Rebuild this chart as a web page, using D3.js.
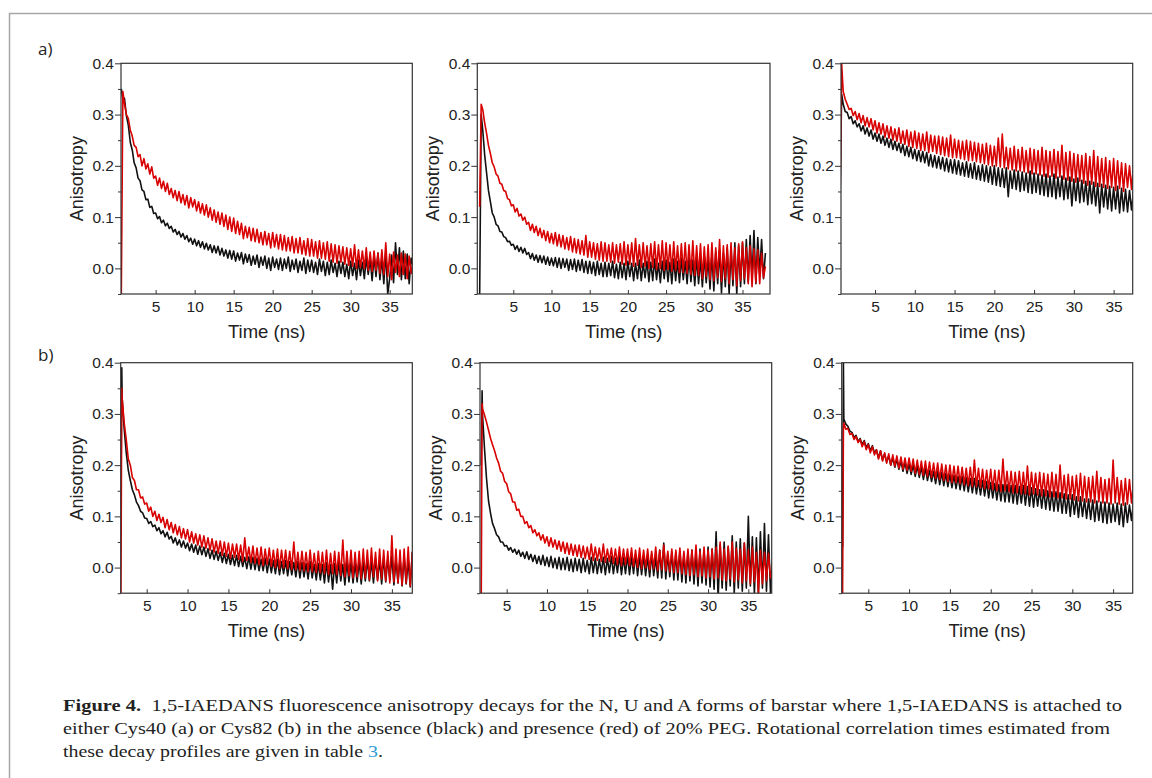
<!DOCTYPE html>
<html>
<head>
<meta charset="utf-8">
<script src="https://cdn.jsdelivr.net/npm/d3@7"></script>
<style>
  body { margin: 0; background: #fff; }
  svg text { fill: #222; }
</style>
</head>
<body>
<div id="fig"></div>
<script>
// time grids (ns): row a starts at the excitation spike ~0.6 ns, row b at ~1.85 ns
const timeA = [0.6, 0.8,
  1.0, 1.25, 1.5, 1.75, 2.0, 2.25, 2.5, 2.75,
  3.0, 3.25, 3.5, 3.75, 4.0, 4.25, 4.5, 4.75,
  5.0, 5.25, 5.5, 5.75, 6.0, 6.25, 6.5, 6.75,
  7.0, 7.25, 7.5, 7.75, 8.0, 8.25, 8.5, 8.75,
  9.0, 9.25, 9.5, 9.75, 10.0, 10.25, 10.5, 10.75,
  11.0, 11.25, 11.5, 11.75, 12.0, 12.25, 12.5, 12.75,
  13.0, 13.25, 13.5, 13.75, 14.0, 14.25, 14.5, 14.75,
  15.0, 15.25, 15.5, 15.75, 16.0, 16.25, 16.5, 16.75,
  17.0, 17.25, 17.5, 17.75, 18.0, 18.25, 18.5, 18.75,
  19.0, 19.25, 19.5, 19.75, 20.0, 20.25, 20.5, 20.75,
  21.0, 21.25, 21.5, 21.75, 22.0, 22.25, 22.5, 22.75,
  23.0, 23.25, 23.5, 23.75, 24.0, 24.25, 24.5, 24.75,
  25.0, 25.25, 25.5, 25.75, 26.0, 26.25, 26.5, 26.75,
  27.0, 27.25, 27.5, 27.75, 28.0, 28.25, 28.5, 28.75,
  29.0, 29.25, 29.5, 29.75, 30.0, 30.25, 30.5, 30.75,
  31.0, 31.25, 31.5, 31.75, 32.0, 32.25, 32.5, 32.75,
  33.0, 33.25, 33.5, 33.75, 34.0, 34.25, 34.5, 34.75,
  35.0, 35.25, 35.5, 35.75, 36.0, 36.25, 36.5, 36.75,
  37.0, 37.25, 37.5, 37.75, 38.0];
const timeB = [1.85, 1.95,
  2.0, 2.25, 2.5, 2.75, 3.0, 3.25, 3.5, 3.75,
  4.0, 4.25, 4.5, 4.75, 5.0, 5.25, 5.5, 5.75,
  6.0, 6.25, 6.5, 6.75, 7.0, 7.25, 7.5, 7.75,
  8.0, 8.25, 8.5, 8.75, 9.0, 9.25, 9.5, 9.75,
  10.0, 10.25, 10.5, 10.75, 11.0, 11.25, 11.5, 11.75,
  12.0, 12.25, 12.5, 12.75, 13.0, 13.25, 13.5, 13.75,
  14.0, 14.25, 14.5, 14.75, 15.0, 15.25, 15.5, 15.75,
  16.0, 16.25, 16.5, 16.75, 17.0, 17.25, 17.5, 17.75,
  18.0, 18.25, 18.5, 18.75, 19.0, 19.25, 19.5, 19.75,
  20.0, 20.25, 20.5, 20.75, 21.0, 21.25, 21.5, 21.75,
  22.0, 22.25, 22.5, 22.75, 23.0, 23.25, 23.5, 23.75,
  24.0, 24.25, 24.5, 24.75, 25.0, 25.25, 25.5, 25.75,
  26.0, 26.25, 26.5, 26.75, 27.0, 27.25, 27.5, 27.75,
  28.0, 28.25, 28.5, 28.75, 29.0, 29.25, 29.5, 29.75,
  30.0, 30.25, 30.5, 30.75, 31.0, 31.25, 31.5, 31.75,
  32.0, 32.25, 32.5, 32.75, 33.0, 33.25, 33.5, 33.75,
  34.0, 34.25, 34.5, 34.75, 35.0, 35.25, 35.5, 35.75,
  36.0, 36.25, 36.5, 36.75, 37.0, 37.25, 37.5, 37.75,
  38.0];

// row a: Cys40 label, N / U / A forms; black = no PEG, red = 20% PEG
const cys40N_black = [0.35, 0.33,
  0.332, 0.298, 0.279, 0.246, 0.231, 0.206, 0.196, 0.176,
  0.171, 0.153, 0.150, 0.134, 0.135, 0.119, 0.121, 0.107,
  0.108, 0.097, 0.101, 0.089, 0.094, 0.083, 0.088, 0.078,
  0.082, 0.071, 0.076, 0.066, 0.072, 0.061, 0.068, 0.057,
  0.064, 0.052, 0.059, 0.047, 0.057, 0.044, 0.054, 0.041,
  0.052, 0.038, 0.049, 0.036, 0.046, 0.031, 0.044, 0.03,
  0.043, 0.026, 0.039, 0.024, 0.036, 0.02, 0.035, 0.018,
  0.034, 0.014, 0.03, 0.016, 0.031, 0.009, 0.028, 0.012,
  0.027, 0.006, 0.024, 0.008, 0.026, 0.002, 0.022, 0.006,
  0.024, 0.0, 0.02, -0.004, 0.022, 0.002, 0.018, -0.002,
  0.02, -0.004, 0.018, 0.0, 0.022, -0.006, 0.016, -0.002,
  0.018, -0.008, 0.014, -0.004, 0.02, -0.01, 0.016, -0.006,
  0.016, -0.008, 0.012, -0.012, 0.018, -0.006, 0.014, -0.014,
  0.012, -0.012, 0.016, -0.008, 0.01, -0.016, 0.014, -0.01,
  0.012, -0.016, 0.008, -0.02, 0.014, -0.014, 0.01, -0.022,
  0.016, -0.014, 0.012, -0.02, 0.02, -0.012, 0.018, -0.024,
  0.024, -0.016, 0.03, -0.022, 0.02, -0.03, 0.034, -0.05,
  -0.02, 0.026, -0.028, 0.05, -0.012, 0.04, -0.022, 0.034,
  -0.02, 0.028, -0.03, 0.02, 0.004];
const cys40N_red = [-0.05, 0.345,
  0.322, 0.3, 0.292, 0.27, 0.258, 0.24, 0.236, 0.218,
  0.222, 0.2, 0.214, 0.194, 0.204, 0.184, 0.198, 0.176,
  0.18, 0.162, 0.176, 0.156, 0.17, 0.15, 0.166, 0.144,
  0.156, 0.138, 0.152, 0.132, 0.15, 0.128, 0.144, 0.124,
  0.142, 0.118, 0.138, 0.12, 0.134, 0.112, 0.13, 0.108,
  0.126, 0.104, 0.124, 0.1, 0.118, 0.094, 0.114, 0.09,
  0.11, 0.086, 0.108, 0.082, 0.104, 0.076, 0.1, 0.072,
  0.098, 0.068, 0.092, 0.066, 0.088, 0.058, 0.082, 0.06,
  0.08, 0.054, 0.078, 0.052, 0.076, 0.05, 0.07, 0.046,
  0.072, 0.046, 0.068, 0.04, 0.07, 0.042, 0.066, 0.038,
  0.066, 0.036, 0.064, 0.034, 0.06, 0.034, 0.062, 0.03,
  0.058, 0.03, 0.06, 0.028, 0.054, 0.026, 0.058, 0.024,
  0.056, 0.024, 0.052, 0.02, 0.054, 0.02, 0.05, 0.018,
  0.052, 0.014, 0.048, 0.012, 0.046, 0.01, 0.044, 0.012,
  0.042, 0.008, 0.04, 0.006, 0.038, 0.004, 0.046, 0.0,
  0.036, 0.002, 0.034, 0.0, 0.04, -0.004, 0.032, -0.006,
  0.034, -0.004, 0.03, -0.01, 0.036, -0.012, 0.05, -0.016,
  0.028, -0.022, 0.032, -0.008, 0.026, -0.016, 0.03, -0.012,
  0.028, -0.02, 0.024, -0.01, 0.012];
const cys40U_black = [-0.05, 0.3,
  0.27, 0.222, 0.187, 0.152, 0.13, 0.108, 0.1, 0.086,
  0.083, 0.072, 0.071, 0.062, 0.06, 0.052, 0.053, 0.045,
  0.047, 0.037, 0.044, 0.033, 0.041, 0.03, 0.039, 0.027,
  0.031, 0.019, 0.029, 0.016, 0.026, 0.012, 0.025, 0.011,
  0.024, 0.008, 0.022, 0.006, 0.02, 0.005, 0.021, 0.002,
  0.02, 0.0, 0.019, 0.002, 0.018, -0.004, 0.017, -0.002,
  0.018, -0.006, 0.016, -0.004, 0.017, -0.008, 0.014, -0.01,
  0.014, -0.01, 0.012, -0.014, 0.014, -0.012, 0.01, -0.016,
  0.012, -0.016, 0.01, -0.014, 0.014, -0.018, 0.008, -0.02,
  0.012, -0.018, 0.01, -0.022, 0.014, -0.016, 0.01, -0.024,
  0.01, -0.02, 0.016, -0.024, 0.01, -0.018, 0.014, -0.026,
  0.012, -0.024, 0.018, -0.022, 0.01, -0.028, 0.014, -0.02,
  0.016, -0.026, 0.012, -0.03, 0.018, -0.024, 0.014, -0.028,
  0.02, -0.022, 0.014, -0.03, 0.022, -0.026, 0.016, -0.034,
  0.022, -0.03, 0.018, -0.036, 0.024, -0.028, 0.02, -0.04,
  0.028, -0.044, 0.032, -0.03, 0.036, -0.048, 0.03, -0.036,
  0.04, -0.05, 0.036, -0.034, 0.05, -0.05, 0.044, -0.036,
  0.05, -0.03, 0.056, -0.026, 0.064, -0.02, 0.074, -0.03,
  0.06, -0.01, 0.056, -0.02, 0.03];
const cys40U_red = [0.12, 0.32,
  0.31, 0.284, 0.264, 0.24, 0.224, 0.206, 0.198, 0.184,
  0.18, 0.166, 0.164, 0.152, 0.15, 0.136, 0.134, 0.122,
  0.124, 0.11, 0.117, 0.102, 0.106, 0.094, 0.1, 0.086,
  0.09, 0.074, 0.086, 0.07, 0.082, 0.064, 0.078, 0.06,
  0.074, 0.054, 0.072, 0.05, 0.068, 0.048, 0.07, 0.044,
  0.066, 0.042, 0.064, 0.038, 0.06, 0.036, 0.062, 0.032,
  0.058, 0.03, 0.056, 0.028, 0.054, 0.026, 0.064, 0.022,
  0.052, 0.022, 0.05, 0.018, 0.048, 0.016, 0.052, 0.014,
  0.05, 0.014, 0.046, 0.012, 0.05, 0.01, 0.046, 0.012,
  0.048, 0.008, 0.052, 0.006, 0.046, 0.008, 0.05, 0.004,
  0.058, 0.006, 0.046, 0.002, 0.05, 0.004, 0.044, 0.0,
  0.048, 0.002, 0.052, -0.002, 0.046, 0.0, 0.054, -0.004,
  0.05, -0.002, 0.046, -0.006, 0.052, -0.004, 0.044, -0.008,
  0.048, -0.008, 0.05, -0.01, 0.046, -0.012, 0.054, -0.014,
  0.044, -0.014, 0.048, -0.02, 0.042, -0.016, 0.046, -0.022,
  0.05, -0.024, 0.04, -0.018, 0.056, -0.026, 0.044, -0.02,
  0.046, -0.03, 0.05, -0.022, 0.04, -0.034, 0.048, -0.024,
  0.052, -0.02, 0.04, -0.03, 0.044, -0.036, 0.038, -0.028,
  0.036, -0.03, 0.03, -0.018, 0.004];
const cys40A_black = [0.13, 0.34,
  0.32, 0.306, 0.304, 0.292, 0.296, 0.282, 0.288, 0.276,
  0.282, 0.268, 0.278, 0.262, 0.274, 0.258, 0.27, 0.252,
  0.264, 0.248, 0.262, 0.244, 0.258, 0.24, 0.254, 0.236,
  0.252, 0.232, 0.248, 0.23, 0.244, 0.226, 0.242, 0.22,
  0.238, 0.218, 0.236, 0.214, 0.232, 0.21, 0.23, 0.208,
  0.228, 0.206, 0.226, 0.2, 0.222, 0.198, 0.22, 0.196,
  0.218, 0.194, 0.216, 0.19, 0.214, 0.188, 0.212, 0.186,
  0.212, 0.184, 0.21, 0.182, 0.206, 0.18, 0.208, 0.178,
  0.204, 0.176, 0.206, 0.174, 0.2, 0.172, 0.202, 0.17,
  0.2, 0.168, 0.198, 0.164, 0.2, 0.162, 0.196, 0.16,
  0.194, 0.158, 0.196, 0.14, 0.19, 0.156, 0.192, 0.154,
  0.19, 0.15, 0.188, 0.152, 0.186, 0.148, 0.19, 0.146,
  0.186, 0.148, 0.184, 0.144, 0.182, 0.142, 0.184, 0.14,
  0.18, 0.14, 0.184, 0.136, 0.178, 0.14, 0.18, 0.134,
  0.176, 0.136, 0.178, 0.122, 0.174, 0.132, 0.176, 0.128,
  0.172, 0.13, 0.17, 0.124, 0.17, 0.126, 0.168, 0.122,
  0.166, 0.108, 0.164, 0.12, 0.162, 0.116, 0.16, 0.112,
  0.158, 0.116, 0.16, 0.108, 0.156, 0.112, 0.154, 0.11,
  0.152, 0.114, 0.15, 0.118, 0.13];
const cys40A_red = [0.13, 0.4,
  0.345, 0.33, 0.32, 0.31, 0.312, 0.298, 0.306, 0.29,
  0.302, 0.284, 0.298, 0.278, 0.294, 0.276, 0.292, 0.27,
  0.288, 0.264, 0.284, 0.262, 0.282, 0.256, 0.278, 0.254,
  0.276, 0.25, 0.272, 0.248, 0.274, 0.244, 0.268, 0.242,
  0.27, 0.238, 0.266, 0.236, 0.268, 0.234, 0.264, 0.23,
  0.262, 0.23, 0.266, 0.226, 0.26, 0.228, 0.258, 0.224,
  0.258, 0.222, 0.256, 0.22, 0.254, 0.218, 0.26, 0.216,
  0.252, 0.216, 0.25, 0.214, 0.248, 0.212, 0.25, 0.21,
  0.248, 0.21, 0.246, 0.208, 0.244, 0.206, 0.242, 0.204,
  0.244, 0.202, 0.24, 0.2, 0.238, 0.2, 0.254, 0.198,
  0.262, 0.196, 0.236, 0.194, 0.234, 0.192, 0.238, 0.19,
  0.232, 0.19, 0.236, 0.188, 0.23, 0.186, 0.234, 0.184,
  0.232, 0.184, 0.23, 0.182, 0.236, 0.18, 0.23, 0.178,
  0.228, 0.18, 0.232, 0.176, 0.228, 0.178, 0.24, 0.174,
  0.226, 0.172, 0.228, 0.17, 0.224, 0.168, 0.222, 0.17,
  0.22, 0.166, 0.224, 0.162, 0.218, 0.164, 0.23, 0.16,
  0.218, 0.16, 0.214, 0.158, 0.216, 0.156, 0.21, 0.158,
  0.214, 0.152, 0.21, 0.156, 0.206, 0.15, 0.204, 0.158,
  0.2, 0.154, 0.202, 0.16, 0.18];

// row b: Cys82 label
const cys82N_black = [0.12, 0.39,
  0.33, 0.27, 0.224, 0.19, 0.17, 0.152, 0.142, 0.128,
  0.121, 0.11, 0.107, 0.097, 0.096, 0.086, 0.09, 0.08,
  0.083, 0.072, 0.078, 0.066, 0.072, 0.06, 0.069, 0.056,
  0.061, 0.048, 0.058, 0.044, 0.054, 0.04, 0.052, 0.038,
  0.048, 0.033, 0.046, 0.03, 0.044, 0.026, 0.042, 0.025,
  0.04, 0.022, 0.037, 0.018, 0.034, 0.016, 0.032, 0.014,
  0.03, 0.01, 0.028, 0.008, 0.026, 0.006, 0.024, 0.004,
  0.024, 0.002, 0.022, 0.002, 0.02, -0.002, 0.021, -0.003,
  0.02, -0.004, 0.018, -0.006, 0.016, -0.006, 0.018, -0.01,
  0.016, -0.01, 0.014, -0.012, 0.016, -0.014, 0.012, -0.012,
  0.014, -0.016, 0.012, -0.014, 0.01, -0.018, 0.012, -0.02,
  0.01, -0.018, 0.008, -0.022, 0.012, -0.02, 0.006, -0.024,
  0.008, -0.024, 0.006, -0.03, 0.01, -0.028, 0.006, -0.042,
  0.008, -0.03, 0.01, -0.026, 0.006, -0.034, 0.012, -0.028,
  0.01, -0.03, 0.008, -0.028, 0.014, -0.032, 0.01, -0.026,
  0.016, -0.026, 0.012, -0.03, 0.018, -0.024, 0.014, -0.032,
  0.02, -0.028, 0.018, -0.024, 0.022, -0.034, 0.016, -0.03,
  0.018, -0.036, 0.022, -0.032, 0.014, -0.038, 0.03, -0.04,
  -0.02];
const cys82N_red = [-0.05, 0.35,
  0.33, 0.282, 0.25, 0.212, 0.2, 0.176, 0.17, 0.152,
  0.152, 0.136, 0.138, 0.124, 0.126, 0.11, 0.118, 0.1,
  0.11, 0.092, 0.104, 0.088, 0.098, 0.078, 0.094, 0.074,
  0.088, 0.068, 0.084, 0.064, 0.08, 0.058, 0.076, 0.056,
  0.074, 0.05, 0.07, 0.048, 0.066, 0.044, 0.064, 0.04,
  0.062, 0.038, 0.058, 0.034, 0.056, 0.03, 0.052, 0.028,
  0.052, 0.024, 0.05, 0.022, 0.048, 0.018, 0.046, 0.02,
  0.046, 0.016, 0.044, 0.012, 0.058, 0.014, 0.04, 0.01,
  0.042, 0.008, 0.038, 0.006, 0.04, 0.004, 0.036, 0.006,
  0.038, 0.002, 0.034, 0.0, 0.036, -0.002, 0.034, 0.0,
  0.034, -0.002, 0.032, -0.004, 0.05, -0.004, 0.03, -0.006,
  0.032, -0.006, 0.03, -0.008, 0.034, -0.008, 0.028, -0.01,
  0.032, -0.01, 0.03, -0.012, 0.034, -0.014, 0.028, -0.012,
  0.032, -0.014, 0.03, -0.016, 0.054, -0.018, 0.032, -0.016,
  0.034, -0.02, 0.03, -0.018, 0.032, -0.022, 0.036, -0.02,
  0.034, -0.024, 0.038, -0.018, 0.03, -0.026, 0.036, -0.022,
  0.034, -0.026, 0.032, -0.03, 0.062, -0.028, 0.036, -0.03,
  0.034, -0.034, 0.036, -0.03, 0.04, -0.036, 0.03, -0.05,
  0.02];
const cys82U_black = [0.2, 0.345,
  0.3, 0.232, 0.174, 0.13, 0.106, 0.086, 0.076, 0.064,
  0.06, 0.05, 0.05, 0.042, 0.043, 0.034, 0.039, 0.03,
  0.036, 0.026, 0.034, 0.022, 0.03, 0.018, 0.031, 0.016,
  0.026, 0.012, 0.024, 0.008, 0.022, 0.006, 0.024, 0.004,
  0.02, 0.002, 0.022, 0.0, 0.018, -0.002, 0.02, -0.004,
  0.018, -0.004, 0.02, -0.006, 0.016, -0.008, 0.018, -0.006,
  0.016, -0.01, 0.018, -0.008, 0.014, -0.012, 0.02, -0.01,
  0.018, -0.012, 0.016, -0.01, 0.02, -0.014, 0.018, -0.01,
  0.022, -0.012, 0.018, -0.01, 0.024, -0.014, 0.02, -0.012,
  0.024, -0.014, 0.022, -0.012, 0.026, -0.016, 0.022, -0.014,
  0.024, -0.016, 0.022, -0.018, 0.026, -0.016, 0.02, -0.02,
  0.034, -0.02, 0.048, -0.022, 0.026, -0.018, 0.03, -0.024,
  0.028, -0.024, 0.032, -0.028, 0.026, -0.03, 0.03, -0.026,
  0.034, -0.032, 0.028, -0.036, 0.036, -0.03, 0.032, -0.034,
  0.04, -0.038, 0.036, -0.042, 0.07, -0.06, 0.044, -0.04,
  0.05, -0.044, 0.04, -0.036, 0.062, -0.05, 0.05, -0.04,
  0.056, -0.046, 0.048, -0.04, 0.1, -0.036, 0.06, -0.05,
  0.058, -0.05, 0.07, -0.04, 0.086, -0.046, 0.064, -0.05,
  0.01];
const cys82U_red = [-0.05, 0.32,
  0.31, 0.298, 0.284, 0.268, 0.252, 0.24, 0.228, 0.214,
  0.204, 0.188, 0.184, 0.168, 0.164, 0.148, 0.144, 0.128,
  0.128, 0.112, 0.114, 0.1, 0.1, 0.086, 0.09, 0.078,
  0.082, 0.068, 0.074, 0.062, 0.068, 0.054, 0.064, 0.048,
  0.06, 0.042, 0.058, 0.04, 0.054, 0.036, 0.052, 0.032,
  0.05, 0.028, 0.048, 0.026, 0.046, 0.024, 0.044, 0.022,
  0.044, 0.02, 0.042, 0.018, 0.04, 0.016, 0.046, 0.014,
  0.04, 0.014, 0.038, 0.012, 0.046, 0.01, 0.036, 0.012,
  0.038, 0.008, 0.036, 0.006, 0.04, 0.004, 0.036, 0.006,
  0.036, 0.004, 0.038, 0.002, 0.034, 0.0, 0.038, -0.002,
  0.034, 0.0, 0.036, -0.004, 0.032, -0.002, 0.04, -0.006,
  0.034, -0.004, 0.044, -0.006, 0.032, -0.008, 0.036, -0.01,
  0.034, -0.01, 0.038, -0.012, 0.032, -0.014, 0.036, -0.016,
  0.034, -0.014, 0.044, -0.018, 0.032, -0.016, 0.04, -0.02,
  0.034, -0.018, 0.036, -0.022, 0.04, -0.02, 0.05, -0.024,
  0.036, -0.026, 0.042, -0.022, 0.05, -0.028, 0.038, -0.024,
  0.036, -0.03, 0.048, -0.026, 0.034, -0.032, 0.04, -0.028,
  0.03, -0.05, 0.034, -0.032, 0.03, -0.026, 0.028, -0.02,
  0.0];
const cys82A_black = [0.04, 0.4,
  0.29, 0.28, 0.276, 0.266, 0.264, 0.254, 0.258, 0.246,
  0.252, 0.24, 0.248, 0.234, 0.242, 0.228, 0.238, 0.224,
  0.23, 0.214, 0.228, 0.21, 0.222, 0.206, 0.218, 0.2,
  0.214, 0.196, 0.212, 0.192, 0.208, 0.188, 0.206, 0.184,
  0.202, 0.182, 0.2, 0.178, 0.198, 0.176, 0.196, 0.172,
  0.194, 0.17, 0.19, 0.168, 0.188, 0.164, 0.188, 0.162,
  0.186, 0.16, 0.184, 0.158, 0.182, 0.156, 0.18, 0.154,
  0.178, 0.152, 0.178, 0.15, 0.176, 0.148, 0.174, 0.146,
  0.174, 0.144, 0.17, 0.142, 0.17, 0.14, 0.168, 0.136,
  0.166, 0.136, 0.164, 0.132, 0.162, 0.13, 0.162, 0.128,
  0.162, 0.128, 0.16, 0.126, 0.16, 0.124, 0.158, 0.126,
  0.16, 0.122, 0.158, 0.12, 0.156, 0.118, 0.154, 0.12,
  0.152, 0.116, 0.152, 0.114, 0.15, 0.112, 0.148, 0.11,
  0.148, 0.11, 0.146, 0.106, 0.144, 0.106, 0.142, 0.1,
  0.142, 0.104, 0.138, 0.098, 0.138, 0.1, 0.134, 0.096,
  0.134, 0.094, 0.132, 0.09, 0.13, 0.092, 0.128, 0.088,
  0.128, 0.086, 0.126, 0.088, 0.124, 0.09, 0.126, 0.084,
  0.124, 0.08, 0.126, 0.088, 0.122, 0.092, 0.128, 0.09,
  0.11];
const cys82A_red = [-0.05, 0.27,
  0.282, 0.27, 0.272, 0.26, 0.262, 0.25, 0.256, 0.244,
  0.25, 0.236, 0.246, 0.23, 0.24, 0.224, 0.236, 0.22,
  0.23, 0.212, 0.228, 0.208, 0.224, 0.204, 0.222, 0.2,
  0.22, 0.198, 0.218, 0.194, 0.216, 0.192, 0.214, 0.19,
  0.214, 0.188, 0.212, 0.184, 0.21, 0.182, 0.208, 0.18,
  0.208, 0.178, 0.206, 0.176, 0.204, 0.174, 0.204, 0.172,
  0.202, 0.17, 0.2, 0.168, 0.2, 0.166, 0.198, 0.166,
  0.198, 0.164, 0.196, 0.162, 0.194, 0.16, 0.196, 0.158,
  0.21, 0.158, 0.194, 0.156, 0.192, 0.154, 0.19, 0.154,
  0.192, 0.152, 0.19, 0.15, 0.19, 0.148, 0.212, 0.15,
  0.188, 0.148, 0.188, 0.146, 0.186, 0.146, 0.188, 0.144,
  0.186, 0.144, 0.198, 0.142, 0.186, 0.144, 0.184, 0.142,
  0.186, 0.14, 0.184, 0.14, 0.182, 0.138, 0.186, 0.138,
  0.182, 0.136, 0.2, 0.136, 0.18, 0.134, 0.182, 0.134,
  0.178, 0.132, 0.18, 0.13, 0.184, 0.13, 0.178, 0.128,
  0.176, 0.128, 0.178, 0.126, 0.188, 0.128, 0.176, 0.126,
  0.172, 0.126, 0.174, 0.124, 0.21, 0.126, 0.176, 0.124,
  0.17, 0.122, 0.174, 0.124, 0.172, 0.126, 0.168, 0.13,
  0.15];

const yTicks = [0.0, 0.1, 0.2, 0.3, 0.4];
const yMinorTicks = [-0.05, 0.05, 0.15, 0.25, 0.35];
const xTicks = [5, 10, 15, 20, 25, 30, 35];
const rowLabels = ['a)', 'b)'];
const xTitle = 'Time (ns)';
const yTitle = 'Anisotropy';

const sans = '"Liberation Sans", Arial, sans-serif';
const serif = '"Liberation Serif", "Times New Roman", serif';

class DecayPanel {
    constructor(svg, box, xDomain, id) {
        this.box = box; // [left, top, right, bottom]
        this.x = d3.scaleLinear().domain(xDomain).range([box[0], box[2]]);
        this.y = d3.scaleLinear().domain([-0.05, 0.4]).range([box[3], box[1]]);
        this.g = svg.append('g').attr('class', 'panel');
        this.id = id;
        this.g.append('clipPath').attr('id', id)
            .append('rect')
            .attr('x', box[0]).attr('y', box[1])
            .attr('width', box[2] - box[0]).attr('height', box[3] - box[1]);
    }

    #axes() {
        const [l, t, r, b] = this.box;
        const yAxis = d3.axisLeft(this.y).tickValues(yTicks)
            .tickFormat(d3.format('.1f')).tickSize(6).tickPadding(1).tickSizeOuter(0);
        const yMinor = d3.axisLeft(this.y).tickValues(yMinorTicks)
            .tickFormat('').tickSize(3).tickSizeOuter(0);
        const xAxis = d3.axisBottom(this.x).tickValues(xTicks)
            .tickSize(-4).tickPadding(7).tickSizeOuter(0);

        this.g.append('g').attr('transform', `translate(${l},0)`).call(yAxis);
        this.g.append('g').attr('transform', `translate(${l},0)`).call(yMinor);
        this.g.append('g').attr('transform', `translate(0,${b})`).call(xAxis);
        this.g.selectAll('.domain').remove();
        this.g.selectAll('.tick line').attr('stroke', '#333').attr('stroke-width', 1);
        this.g.selectAll('.tick text')
            .style('font-size', '15.5px').style('font-family', sans).style('fill', '#222');

        this.g.append('rect')
            .attr('x', l).attr('y', t).attr('width', r - l).attr('height', b - t)
            .attr('fill', 'none').attr('stroke', '#333').attr('stroke-width', 1.2);

        this.g.append('text')
            .attr('x', (l + r) / 2).attr('y', b + 44)
            .attr('text-anchor', 'middle')
            .style('font-size', '18.5px').style('font-family', sans)
            .text(xTitle);
        this.g.append('text')
            .attr('transform', `translate(${l - 38},${(t + b) / 2}) rotate(-90)`)
            .attr('text-anchor', 'middle')
            .style('font-size', '18px').style('font-family', sans)
            .text(yTitle);
    }

    render(time, black, red) {
        const line = d3.line().x(d => this.x(d[0])).y(d => this.y(d[1]));
        const traces = this.g.append('g').attr('clip-path', `url(#${this.id})`);
        traces.append('path').datum(d3.zip(time, black))
            .attr('d', line).attr('fill', 'none')
            .attr('stroke', '#111').attr('stroke-width', 1.6).attr('stroke-linejoin', 'round');
        traces.append('path').datum(d3.zip(time, red))
            .attr('d', line).attr('fill', 'none')
            .attr('stroke', '#d80000').attr('stroke-width', 1.6).attr('stroke-linejoin', 'round');
        this.#axes();
        return this;
    }
}

const svg = d3.select('#fig').append('svg')
    .attr('width', 1152).attr('height', 778);

// grey figure frame (top and left edges)
svg.append('path').attr('d', 'M9.5,778V13.5H1152')
    .attr('fill', 'none').attr('stroke', '#a6a6a6').attr('stroke-width', 1.5);

svg.selectAll('text.rowlab').data(rowLabels).join('text')
    .attr('class', 'rowlab')
    .attr('x', 38).attr('y', (d, i) => i ? 361 : 55)
    .style('font-size', '17px').style('font-family', '"Open Sans", sans-serif')
    .text(d => d);

new DecayPanel(svg, [121, 63.3, 412.3, 294], [0.56, 37.9], 'c1').render(timeA, cys40N_black, cys40N_red);
new DecayPanel(svg, [477.3, 63.3, 770, 294], [0.29, 38.6], 'c2').render(timeA, cys40U_black, cys40U_red);
new DecayPanel(svg, [841, 63.3, 1132.7, 294], [0.72, 37.4], 'c3').render(timeA, cys40A_black, cys40A_red);
new DecayPanel(svg, [120.7, 362.7, 412.3, 593.2], [1.82, 37.5], 'c4').render(timeB, cys82N_black, cys82N_red);
new DecayPanel(svg, [480, 362.7, 771.7, 593.2], [1.69, 37.9], 'c5').render(timeB, cys82U_black, cys82U_red);
new DecayPanel(svg, [841.7, 362.7, 1132.7, 593.2], [1.74, 37.4], 'c6').render(timeB, cys82A_black, cys82A_red);

// caption
const cap = svg.append('g');
const l1 = cap.append('text').attr('x', 63).attr('y', 711)
    .style('font-size', '17.5px').style('font-family', serif)
    .attr('textLength', 1059).attr('lengthAdjust', 'spacingAndGlyphs');
l1.append('tspan').attr('font-weight', 'bold').text('Figure 4.');
l1.append('tspan').attr('dx', 9).text('1,5-IAEDANS fluorescence anisotropy decays for the N, U and A forms of barstar where 1,5-IAEDANS is attached to');
cap.append('text').attr('x', 63).attr('y', 734)
    .style('font-size', '17.5px').style('font-family', serif)
    .attr('textLength', 1047).attr('lengthAdjust', 'spacingAndGlyphs')
    .text('either Cys40 (a) or Cys82 (b) in the absence (black) and presence (red) of 20% PEG. Rotational correlation times estimated from');
const l3 = cap.append('text').attr('x', 63).attr('y', 757)
    .style('font-size', '17.5px').style('font-family', serif)
    .attr('textLength', 320).attr('lengthAdjust', 'spacingAndGlyphs');
l3.append('tspan').text('these decay profiles are given in table ');
l3.append('tspan').style('fill', '#2a9ad6').text('3');
l3.append('tspan').text('.');
</script>
</body>
</html>
